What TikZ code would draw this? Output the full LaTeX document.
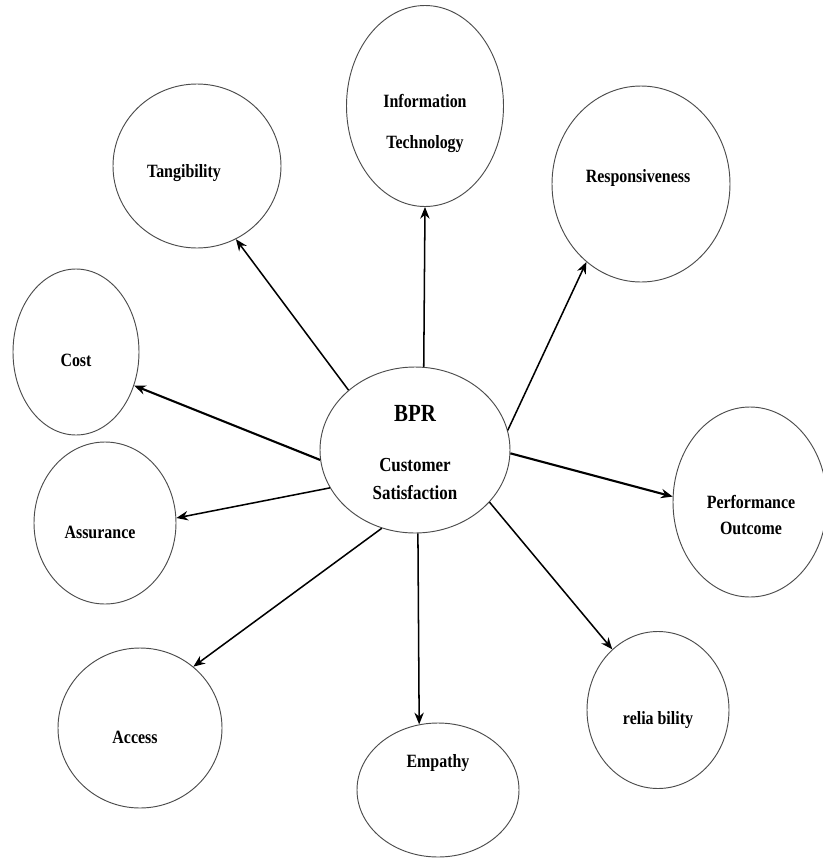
\documentclass[tikz,border=0pt]{standalone}
\usepackage{fontspec}
\newfontfamily\bubfont{Liberation Serif}[FakeStretch=0.85]
\usetikzlibrary{shapes.geometric,arrows.meta}

\begin{document}
\begin{tikzpicture}[
  x=0.03cm, y=-0.03cm,
  bubble/.style={draw=black!70, line width=0.8pt, ellipse, inner sep=0pt},
  sz/.style 2 args={minimum width=#1*0.03cm, minimum height=#2*0.03cm},
  lbl/.style={font=\bubfont\bfseries\fontsize{16}{19}\selectfont, inner sep=0pt, align=center},
  link/.style={-{Stealth[length=10pt,width=8pt]}, line width=1.3pt},
  heavy/.style={link, line width=1.8pt}
]
\useasboundingbox (0,0) rectangle (823,858);

% centre
\node[bubble, sz={190}{166}] (bpr) at (415,450) {};
\node[lbl, font=\bubfont\bfseries\fontsize{21}{24}\selectfont] (bprt) at (415,413) {BPR};
\node[lbl, font=\bubfont\bfseries\fontsize{17}{20}\selectfont] (bprs) at (415,479) {Customer\\[4pt]Satisfaction};

% outer bubbles
\node[bubble, sz={168}{164}] (tang) at (197,166) {};
\node[bubble, sz={157}{201}] (info) at (425,106) {};
\node[bubble, sz={178}{196}] (resp) at (641,184) {};
\node[bubble, sz={126}{166}] (cost) at (76,352) {};
\node[bubble, sz={142}{162}] (assur) at (105,523) {};
\node[bubble, sz={154}{190}] (perf) at (750,502) {};
\node[bubble, sz={164}{160}] (access) at (140,728) {};
\node[bubble, sz={162}{134}] (emp) at (438,790) {};
\node[bubble, sz={142}{157}] (rel) at (658,710) {};

% labels
\node[lbl] (tangt) at (184,173) {Tangibility};
\node[lbl] (infot) at (425,123) {Information\\[16pt]Technology};
\node[lbl] (respt) at (638,178) {Responsiveness};
\node[lbl] (costt) at (76,360) {Cost};
\node[lbl] (assurt) at (100,532) {Assurance};
\node[lbl] (perft) at (751,515) {Performance\\[4pt]Outcome};
\node[lbl] (accesst) at (135,737) {Access};
\node[lbl] (empt) at (438,763) {Empathy};
\node[lbl] (relt) at (658,720) {relia bility};

% connectors
\draw[link] (bpr.138) -- (tang.298);
\draw[link] (bpr.84) -- (info.south);
\draw[link] (bpr.12) -- (resp.235);
\draw[heavy] (bpr.186) -- (cost.330);
\draw[link] (bpr.204) -- (assur.4);
\draw[heavy] (bpr.358) -- (perf.176);
\draw[link] (bpr.247) -- (access.49);
\draw[link] (bpr.272) -- (emp.106);
\draw[link] (bpr.325) -- (rel.127);
\end{tikzpicture}
\end{document}
